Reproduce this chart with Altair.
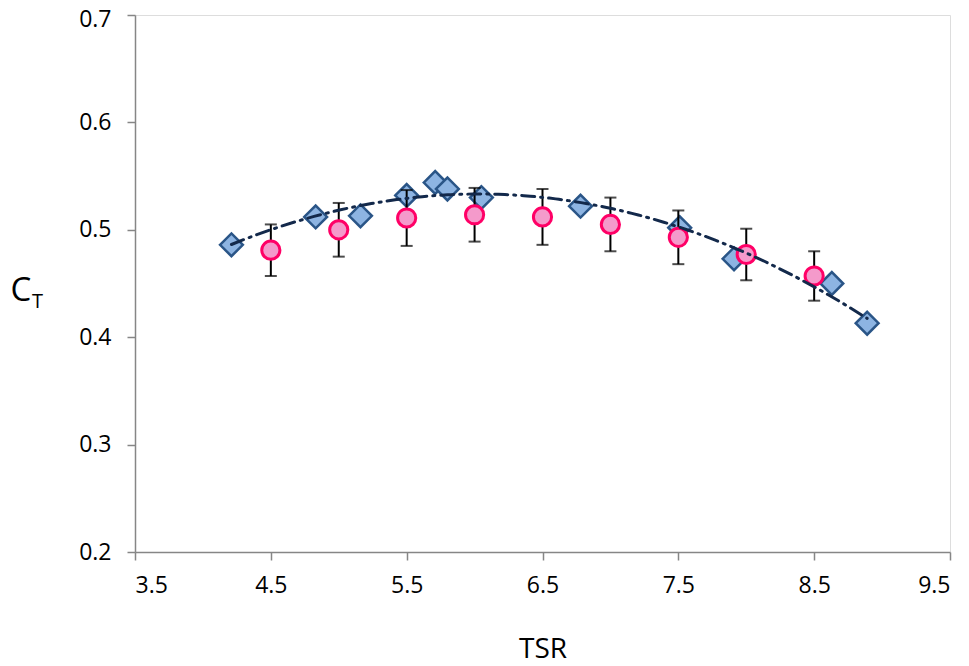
import altair as alt
import pandas as pd

# Diamond series (blue)
dia_x = [4.21, 4.83, 5.16, 5.50, 5.71, 5.80, 6.05, 6.78, 7.51, 7.91, 8.63, 8.89]
dia_y = [0.486, 0.512, 0.513, 0.532, 0.544, 0.538, 0.530, 0.522, 0.502, 0.473, 0.450, 0.413]

# Circle series (pink) with error bars
cir_x = [4.5, 5.0, 5.5, 6.0, 6.5, 7.0, 7.5, 8.0, 8.5]
cir_y = [0.481, 0.500, 0.511, 0.514, 0.512, 0.505, 0.493, 0.477, 0.457]
cir_err = [0.024, 0.025, 0.026, 0.025, 0.026, 0.025, 0.025, 0.024, 0.023]

x_ticks = [3.5, 4.5, 5.5, 6.5, 7.5, 8.5, 9.5]
y_ticks = [0.2, 0.3, 0.4, 0.5, 0.6, 0.7]

FONT = "Open Sans"

dia = pd.DataFrame({"TSR": dia_x, "CT": dia_y})
cir = pd.DataFrame({
    "TSR": cir_x, "CT": cir_y,
    "lo": [y - e for y, e in zip(cir_y, cir_err)],
    "hi": [y + e for y, e in zip(cir_y, cir_err)],
})

xscale = alt.Scale(domain=[3.5, 9.5], nice=False, zero=False)
yscale = alt.Scale(domain=[0.2, 0.7], nice=False, zero=False)

axis_common = dict(
    grid=False, domainColor="#868686", domainWidth=1.5,
    tickColor="#868686", tickWidth=1.5, tickSize=8,
    labelFont=FONT, labelFontSize=23, labelColor="#000000",
    titleFont=FONT, titleColor="#000000", titleFontWeight="normal",
)

xaxis = alt.Axis(values=x_ticks, format=".1f", labelPadding=14,
                 title="TSR", titleFontSize=28, titleY=105,
                 titleBaseline="alphabetic", **axis_common)
yaxis = alt.Axis(values=y_ticks, format=".1f", labelPadding=16,
                 labelOffset={"condition": {"test": "datum.value >= 0.69", "value": 4}, "value": 0},
                 title="C", titleFontSize=33, titleAngle=0,
                 titleX=-125, titleY=285, titleAlign="left",
                 titleBaseline="alphabetic", **axis_common)

base_x = alt.X("TSR:Q", scale=xscale, axis=xaxis)
base_y = alt.Y("CT:Q", scale=yscale, axis=yaxis)

diamonds = alt.Chart(dia).mark_point(
    shape="diamond", filled=True, fill="#8DB4E2", stroke="#2A5587",
    strokeWidth=2.5, size=520, opacity=1
).encode(x=base_x, y=base_y)

rules = alt.Chart(cir).mark_rule(color="#000000", strokeWidth=2).encode(
    x=alt.X("TSR:Q", scale=xscale), y=alt.Y("lo:Q", scale=yscale), y2="hi:Q")
cap_lo = alt.Chart(cir).mark_tick(color="#000000", thickness=2, size=12, orient="horizontal").encode(
    x=alt.X("TSR:Q", scale=xscale), y=alt.Y("lo:Q", scale=yscale))
cap_hi = alt.Chart(cir).mark_tick(color="#000000", thickness=2, size=12, orient="horizontal").encode(
    x=alt.X("TSR:Q", scale=xscale), y=alt.Y("hi:Q", scale=yscale))

circles = alt.Chart(cir).mark_point(
    shape="circle", filled=True, fill="#F49ACB", stroke="#FF0066",
    strokeWidth=3, size=330, opacity=1
).encode(x=alt.X("TSR:Q", scale=xscale), y=alt.Y("CT:Q", scale=yscale))

trend = alt.Chart(dia).transform_regression(
    "TSR", "CT", method="poly", order=2
).mark_line(
    color="#13294B", strokeWidth=3, strokeDash=[13, 6, 2, 6], strokeCap="round"
).encode(x=alt.X("TSR:Q", scale=xscale), y=alt.Y("CT:Q", scale=yscale))

sub_t = alt.Chart(pd.DataFrame({"t": ["T"]})).mark_text(
    font=FONT, fontSize=20, align="left", baseline="alphabetic", color="#000000"
).encode(text="t:N", x=alt.value(-103), y=alt.value(293))

chart = alt.layer(diamonds, rules, cap_lo, cap_hi, circles, trend, sub_t).properties(
    width=815, height=537,
    padding={"left": 127, "top": 7, "right": 10, "bottom": 112},
    autosize=alt.AutoSizeParams(type="none"),
).configure_view(stroke="#868686", strokeWidth=1.5).configure(background="#FFFFFF")

chart.save("out.html", embed_options={"renderer": "svg", "actions": False})
